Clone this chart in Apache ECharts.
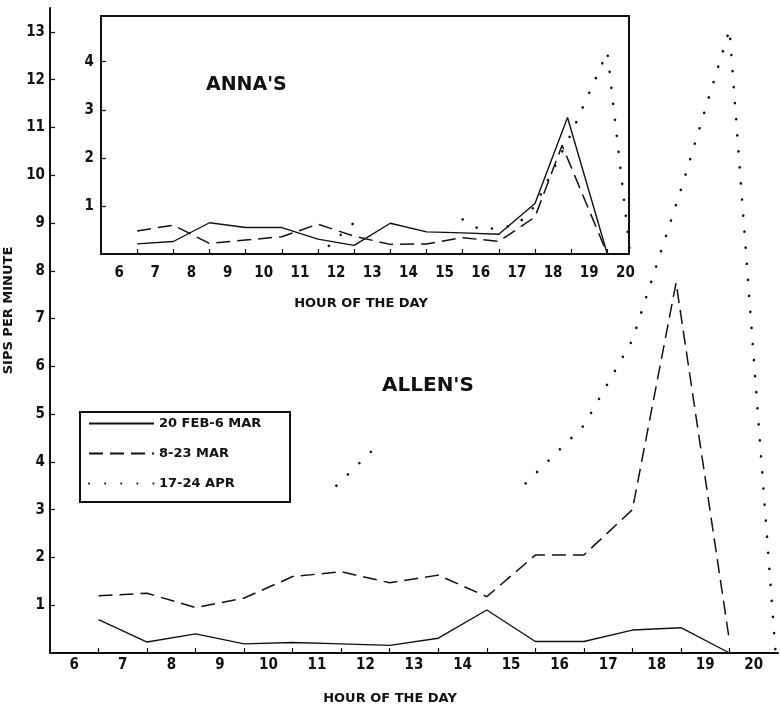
<!DOCTYPE html>
<html><head><meta charset="utf-8">
<script src="https://cdn.jsdelivr.net/npm/echarts@6/dist/echarts.min.js"></script>
<style>html,body{margin:0;padding:0;background:#fff}#c{width:780px;height:706px}</style>
</head><body><div id="c"></div>
<script>
// ---- data ----
const hourLabels = [6,7,8,9,10,11,12,13,14,15,16,17,18,19,20];
const hourTicks = [6.5,7.5,8.5,9.5,10.5,11.5,12.5,13.5,14.5,15.5,16.5,17.5,18.5,19.5];
const mainYTicks = [1,2,3,4,5,6,7,8,9,10,11,12,13];
const insetYTicks = [1,2,3,4];
const periodNames = ['20 FEB-6 MAR', '8-23 MAR', '17-24 APR'];

// Allen's (main chart)
const allenFebHours = [6.5,7.5,8.5,9.5,10.5,11.5,12.5,13.5,14.5,15.5,16.5,17.5,18.5,19.5];
const allenFebSips  = [0.7,0.23,0.4,0.19,0.22,0.19,0.16,0.31,0.9,0.24,0.24,0.48,0.53,0];
const allenMarHours = [6.5,7.5,8.5,9.5,10.5,11.5,12.5,13.5,14.5,15.5,16.5,17.5,18.4,19.5];
const allenMarSips  = [1.2,1.25,0.95,1.15,1.6,1.7,1.47,1.63,1.18,2.05,2.05,3.0,7.75,0.25];
const allenAprHours = [11.4,12.3,13.8,15.3,16.5,17.5,18.5,19.5,20.45];
const allenAprSips  = [3.5,4.4,null,3.55,4.76,6.55,9.7,13.05,0];

// Anna's (inset)
const annaFebHours = [6.5,7.5,8.5,9.5,10.5,11.5,12.5,13.5,14.5,15.5,16.5,17.5,18.4,19.5];
const annaFebSips  = [0.21,0.26,0.65,0.55,0.55,0.31,0.18,0.64,0.46,0.44,0.41,1.05,2.84,0];
const annaMarHours = [6.5,7.5,8.5,9.5,10.5,11.5,12.5,13.5,14.5,15.5,16.5,17.5,18.25,19.5];
const annaMarSips  = [0.48,0.6,0.22,0.29,0.36,0.62,0.37,0.2,0.21,0.34,0.26,0.77,2.26,0];
const annaAprHours = [11.8,12.55,13.5,15.5,16.0,17.0,17.5,18.5,19.5,20.13];
const annaAprSips  = [0.17,0.69,null,0.72,0.5,0.6,1.0,2.5,4.2,0];

// ---- styles ----
const ink = '#111';
const numFont = "'Liberation Sans Narrow','DejaVu Sans Condensed',sans-serif";
const txtFont = "'DejaVu Sans',sans-serif";
const styles = [
  {color: ink, width: 1.4, type: 'solid'},
  {color: ink, width: 1.5, type: [14, 7]},
  {color: ink, width: 2.6, type: [0.1, 16], cap: 'round'}
];
const pairs = (xs, ys) => xs.map((x, i) => [x, ys[i]]);

function mk(nameIdx, xs, ys, gi) {
  return {
    type: 'line', name: periodNames[nameIdx], xAxisIndex: gi, yAxisIndex: gi,
    data: pairs(xs, ys), symbol: 'none', showSymbol: false, connectNulls: false, silent: true,
    lineStyle: styles[nameIdx], itemStyle: {color: ink, opacity: 0}, animation: false, clip: true
  };
}

const labelStyle = {fontFamily: numFont, fontWeight: 'bold', fontSize: 15, color: ink};
const nameStyle = {fontFamily: txtFont, fontWeight: 'bold', fontSize: 13, color: ink};

function xAx(gi, max, margin, nameGap, namePad) {
  return {
    type: 'value', gridIndex: gi, min: 5.5, max: max,
    axisLine: {show: true, onZero: false, lineStyle: {color: ink, width: 2}},
    axisTick: {show: true, inside: true, length: 5, customValues: hourTicks, lineStyle: {color: ink, width: 1.2}},
    axisLabel: {show: true, customValues: hourLabels, margin: margin, ...labelStyle},
    splitLine: {show: false},
    name: 'HOUR OF THE DAY', nameLocation: 'middle', nameGap: nameGap,
    nameTextStyle: Object.assign({}, nameStyle, {padding: namePad})
  };
}
function yAx(gi, max, ticks, margin, extra) {
  return Object.assign({
    type: 'value', gridIndex: gi, min: 0, max: max,
    axisLine: {show: true, onZero: false, lineStyle: {color: ink, width: 2}},
    axisTick: {show: true, inside: true, length: 5, customValues: ticks, lineStyle: {color: ink, width: 1.2}},
    axisLabel: {show: true, customValues: ticks, margin: margin, ...labelStyle},
    splitLine: {show: false}
  }, extra || {});
}

const chart = echarts.init(document.getElementById('c'), null, {renderer: 'canvas'});
chart.setOption({
  animation: false,
  backgroundColor: '#fff',
  title: [
    {text: "ANNA'S", left: 206, top: 76, padding: 0, textStyle: {fontFamily: txtFont, fontWeight: 'bold', fontSize: 19, color: ink}},
    {text: "ALLEN'S", left: 382, top: 376, padding: 0, textStyle: {fontFamily: txtFont, fontWeight: 'bold', fontSize: 20, color: ink}}
  ],
  grid: [
    {left: 50, top: 8, right: 2, bottom: 53, outerBoundsMode: 'none'},
    {left: 101, top: 16, right: 151, bottom: 452, show: true, borderColor: ink, borderWidth: 2, backgroundColor: 'transparent', outerBoundsMode: 'none'}
  ],
  xAxis: [xAx(0, 20.5, 5, 39, [0, 48, 0, 0]), xAx(1, 20.1, 12, 43, [0, 8, 0, 0])],
  yAxis: [
    yAx(0, 13.5, mainYTicks, 5, {name: 'SIPS PER MINUTE', nameLocation: 'middle', nameGap: 33, nameRotate: 90, nameTextStyle: Object.assign({}, nameStyle, {padding: [0, 0, 0, 40]})}),
    yAx(1, 4.95, insetYTicks, 7)
  ],
  legend: {
    data: periodNames, orient: 'vertical', left: 88, top: 417, padding: 0,
    itemWidth: 65, itemHeight: 14, itemGap: 17, selectedMode: false,
    itemStyle: {opacity: 0, borderWidth: 0, color: 'transparent'},
    textStyle: {fontFamily: txtFont, fontWeight: 'bold', fontSize: 13, color: ink}
  },
  graphic: [
    {type: 'rect', shape: {x: 80, y: 412, width: 210, height: 90}, style: {fill: 'none', stroke: ink, lineWidth: 2}, z: 100, silent: true}
  ],
  series: [
    mk(0, allenFebHours, allenFebSips, 0),
    mk(1, allenMarHours, allenMarSips, 0),
    mk(2, allenAprHours, allenAprSips, 0),
    mk(0, annaFebHours, annaFebSips, 1),
    mk(1, annaMarHours, annaMarSips, 1),
    mk(2, annaAprHours, annaAprSips, 1)
  ]
});
</script></body></html>
